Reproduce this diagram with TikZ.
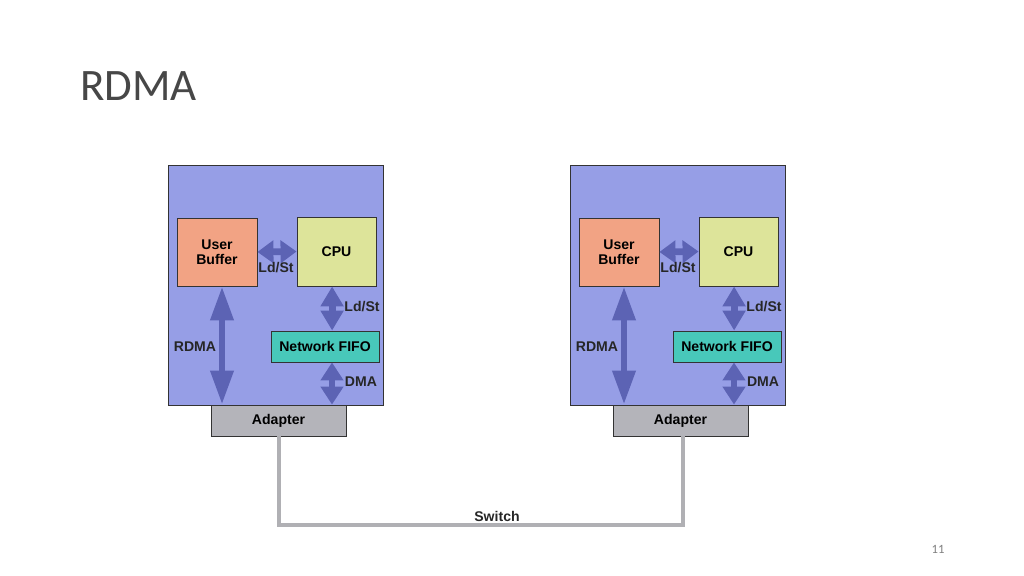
\documentclass[tikz,border=0pt]{standalone}
\usepackage{fontspec}
\setmainfont{Liberation Sans}
\newfontfamily\slidefont{Carlito}
\usepackage{tikz}
\usetikzlibrary{arrows.meta}

\definecolor{hostblue}{RGB}{150,158,230}
\definecolor{arrowblue}{RGB}{92,99,180}
\definecolor{bufsalmon}{RGB}{242,163,132}
\definecolor{cpuyellow}{RGB}{221,228,154}
\definecolor{fifoteal}{RGB}{72,200,186}
\definecolor{adgray}{RGB}{180,180,186}
\definecolor{wiregray}{RGB}{176,176,180}

\tikzset{
  unit/.style={draw=black!80, line width=0.6pt, font=\bfseries\fontsize{10}{11}\selectfont, align=center, inner sep=0pt},
  lbl/.style={font=\bfseries\fontsize{10}{11}\selectfont, text=black!85},
  fat/.style={arrowblue, line width=0.17cm,
    {Triangle[length=#1, width=0.55cm]}-{Triangle[length=#1, width=0.55cm]}},
  fat/.default=0.4cm,
  wire/.style={wiregray, line width=0.1cm}
}

\begin{document}
\begin{tikzpicture}[x=0.025cm, y=-0.025cm]
\useasboundingbox (0,0) rectangle (1024,576);

\node[anchor=base west, inner sep=0pt, font=\slidefont\fontsize{32}{36}\selectfont, text=black!72] (title) at (80,101) {RDMA};

\foreach \s/\dx in {L/0, R/402} {
  % one host
  \node[draw=black!80, line width=0.6pt, fill=hostblue, minimum width=5.375cm, minimum height=6cm] (host\s) at (275.5+\dx,285) {};
  \node[unit, fill=bufsalmon, minimum width=2cm, minimum height=1.7cm] (ub\s) at (217+\dx,252) {User\\Buffer};
  \node[unit, fill=cpuyellow, minimum width=1.975cm, minimum height=1.725cm] (cpu\s) at (336.5+\dx,251.5) {CPU};
  \node[unit, fill=fifoteal, minimum width=2.7cm, minimum height=0.775cm] (fifo\s) at (325+\dx,346.5) {Network FIFO};
  \node[unit, fill=adgray, minimum width=3.375cm, minimum height=0.775cm] (ad\s) at (278.5+\dx,420.5) {Adapter};

  \draw[fat=0.4cm] (ub\s.east) -- (cpu\s.west);
  \draw[fat=0.85cm] ([xshift=0.125cm]ub\s.south) coordinate (r\s) -- (r\s |- ad\s.north);
  \draw[fat=0.5cm] ([xshift=-0.11cm]cpu\s.south) coordinate (c\s) -- (c\s |- fifo\s.north);
  \draw[fat=0.45cm] ([xshift=0.175cm]fifo\s.south) coordinate (d\s) -- (d\s |- ad\s.north);

  \node[lbl] (ldst\s) at (276+\dx,268) {Ld/St};
  \node[lbl] (rdma\s) at (195+\dx,347) {RDMA};
  \node[lbl] (ldstb\s) at (362+\dx,307) {Ld/St};
  \node[lbl] (dma\s) at (361+\dx,382) {DMA};
}

% switch link
\draw[wire] (adL.south) -- (adL.south |- 0,525) -- ([xshift=0.06cm]adR.south |- 0,525) -- ([xshift=0.06cm]adR.south);
\node[lbl] (switch) at (497,516) {Switch};

\node[font=\slidefont\fontsize{9}{10}\selectfont, text=black!50] (page) at (938,549) {11};
\end{tikzpicture}
\end{document}
